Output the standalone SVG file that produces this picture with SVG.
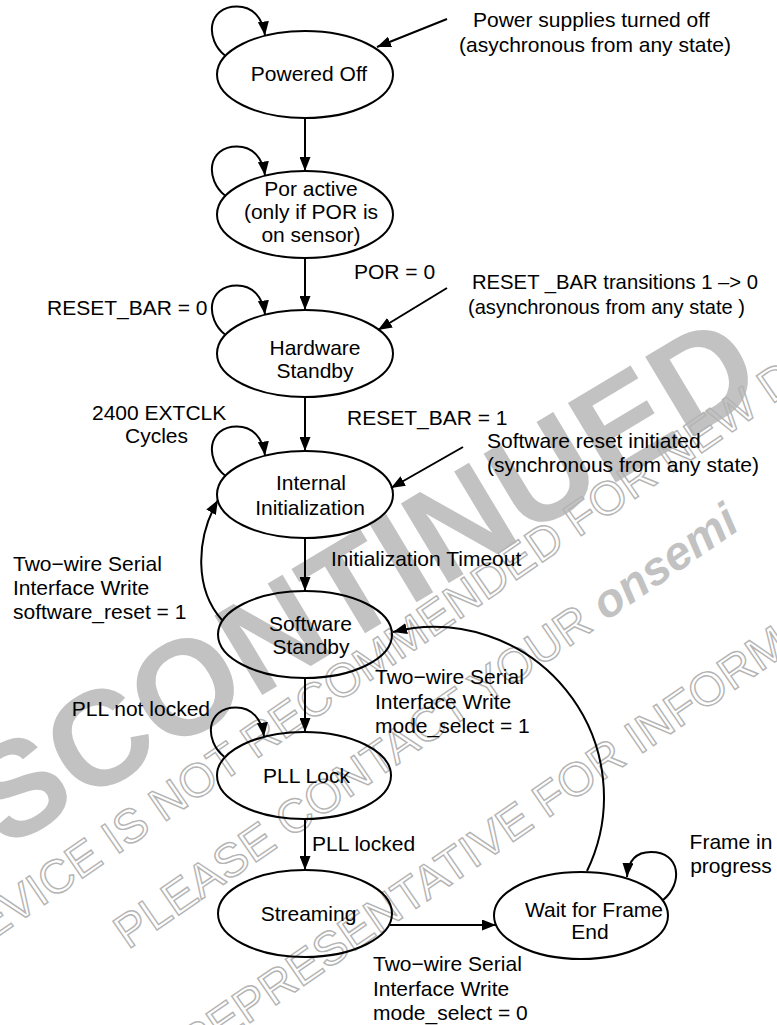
<svg xmlns="http://www.w3.org/2000/svg" width="777" height="1025" viewBox="0 0 777 1025">
<defs>
<style>
text{font-family:"Liberation Sans",Arial,Helvetica,sans-serif;font-size:21px;fill:#000}
.nd ellipse{fill:none;stroke:#000;stroke-width:2}
.nd text{text-anchor:middle}
#connectors path,#connectors line{fill:none;stroke:#000;stroke-width:2;marker-end:url(#ah)}
text.wm{fill:#c2c2c2;font-weight:bold;font-size:135px}
text.wo{fill:none;stroke:#b4b4b4;stroke-width:1.4;font-size:47px}
.wo .om{fill:#c2c2c2;stroke:none;font-weight:bold;font-style:italic}
</style>
<marker id="ah" markerWidth="14" markerHeight="11" refX="14" refY="5.5" orient="auto" markerUnits="userSpaceOnUse">
<path d="M0,0 L14,5.5 L0,11 z" fill="#000"/>
</marker>
<path id="loopL" d="M-80,-19 C-100,-35 -98,-68 -68,-68 C-52,-68 -42,-56 -40,-39" fill="none" stroke="#000" stroke-width="2" marker-end="url(#ah)"/>
</defs>
<rect width="777" height="1025" fill="#fff"/>
<g id="watermark">
<text class="wm" transform="translate(-112,920) rotate(-31)">DISCONTINUED</text>
<text class="wo" transform="translate(-138,1030) rotate(-34.5)">THIS DEVICE IS NOT RECOMMENDED FOR NEW DESIGN</text>
<text class="wo" transform="translate(128,950) rotate(-34.5)">PLEASE CONTACT YOUR <tspan class="om">onsemi</tspan></text>
<text class="wo" transform="translate(193,1062) rotate(-34.5)">REPRESENTATIVE FOR INFORMATION</text>
</g>
<g id="powered-off" class="nd">
<ellipse cx="305" cy="74.5" rx="88" ry="43.5"/>
<text x="309" y="81">Powered Off</text>
</g>
<g id="por-active" class="nd">
<ellipse cx="305" cy="214.5" rx="88" ry="43.5"/>
<text x="311" y="195.5">Por active</text>
<text x="311" y="218.5">(only if POR is</text>
<text x="311" y="241.5">on sensor)</text>
</g>
<g id="hardware-standby" class="nd">
<ellipse cx="305" cy="353.5" rx="88" ry="43.5"/>
<text x="315" y="355">Hardware</text>
<text x="315" y="378">Standby</text>
</g>
<g id="internal-init" class="nd">
<ellipse cx="305" cy="494.5" rx="88" ry="43.5"/>
<text x="311" y="489.5">Internal</text>
<text x="310" y="514.5">Initialization</text>
</g>
<g id="software-standby" class="nd">
<ellipse cx="305" cy="634.5" rx="87" ry="43.5"/>
<text x="310.5" y="630.5">Software</text>
<text x="311" y="653.5">Standby</text>
</g>
<g id="pll-lock" class="nd">
<ellipse cx="304" cy="775.5" rx="87" ry="43.5"/>
<text x="306.5" y="782.5">PLL Lock</text>
</g>
<g id="streaming" class="nd">
<ellipse cx="305" cy="913.5" rx="87" ry="43.5"/>
<text x="308.5" y="921">Streaming</text>
</g>
<g id="wait-frame-end" class="nd">
<ellipse cx="581" cy="915.5" rx="87" ry="43.5"/>
<text x="594" y="916.5">Wait for Frame</text>
<text x="590" y="938.5">End</text>
</g>
<g id="connectors">
<line x1="305" y1="118" x2="305" y2="171"/>
<line x1="305" y1="258" x2="305" y2="310"/>
<line x1="305" y1="397" x2="305" y2="451"/>
<line x1="305" y1="538" x2="305" y2="591"/>
<line x1="305" y1="678" x2="305" y2="732"/>
<line x1="305" y1="819" x2="305" y2="870"/>
<line x1="390" y1="925" x2="496" y2="925"/>
<line x1="447" y1="19" x2="377" y2="47"/>
<line x1="447" y1="288" x2="378" y2="330"/>
<line x1="463" y1="447" x2="391" y2="488"/>
<path d="M222,620 C195,590 195,540 218,500"/>
<path d="M587,871 A170,170 0 0 0 393,632"/>
<use href="#loopL" transform="translate(305,74.5)"/>
<use href="#loopL" transform="translate(305,214.5)"/>
<use href="#loopL" transform="translate(305,353.5)"/>
<use href="#loopL" transform="translate(305,494.5)"/>
<use href="#loopL" transform="translate(304,775.5)"/>
<path d="M663,900 C683,884 681,852 651,852 C635,852 628,862 627,877"/>
</g>
<g id="labels">
<text x="473" y="27">Power supplies turned off</text>
<text x="459" y="52">(asychronous from any state)</text>
<text x="354" y="279">POR = 0</text>
<text x="472" y="289" textLength="286" lengthAdjust="spacingAndGlyphs">RESET _BAR transitions 1 –&gt; 0</text>
<text x="468" y="314" textLength="277" lengthAdjust="spacingAndGlyphs">(asynchronous from any state )</text>
<text x="47" y="315">RESET_BAR = 0</text>
<text x="92" y="420">2400 EXTCLK</text>
<text x="125" y="443">Cycles</text>
<text x="347" y="425">RESET_BAR = 1</text>
<text x="487" y="448">Software reset initiated</text>
<text x="487" y="472">(synchronous from any state)</text>
<text x="13" y="571">Two−wire Serial</text>
<text x="13" y="595">Interface Write</text>
<text x="13" y="619">software_reset = 1</text>
<text x="331" y="566">Initialization Timeout</text>
<text x="375" y="684">Two−wire Serial</text>
<text x="375" y="709">Interface Write</text>
<text x="375" y="733">mode_select = 1</text>
<text x="210" y="716" text-anchor="end">PLL not locked</text>
<text x="312" y="851">PLL locked</text>
<text x="731" y="849" text-anchor="middle">Frame in</text>
<text x="731" y="873" text-anchor="middle">progress</text>
<text x="373" y="971">Two−wire Serial</text>
<text x="373" y="996">Interface Write</text>
<text x="373" y="1020">mode_select = 0</text>
</g>
</svg>
